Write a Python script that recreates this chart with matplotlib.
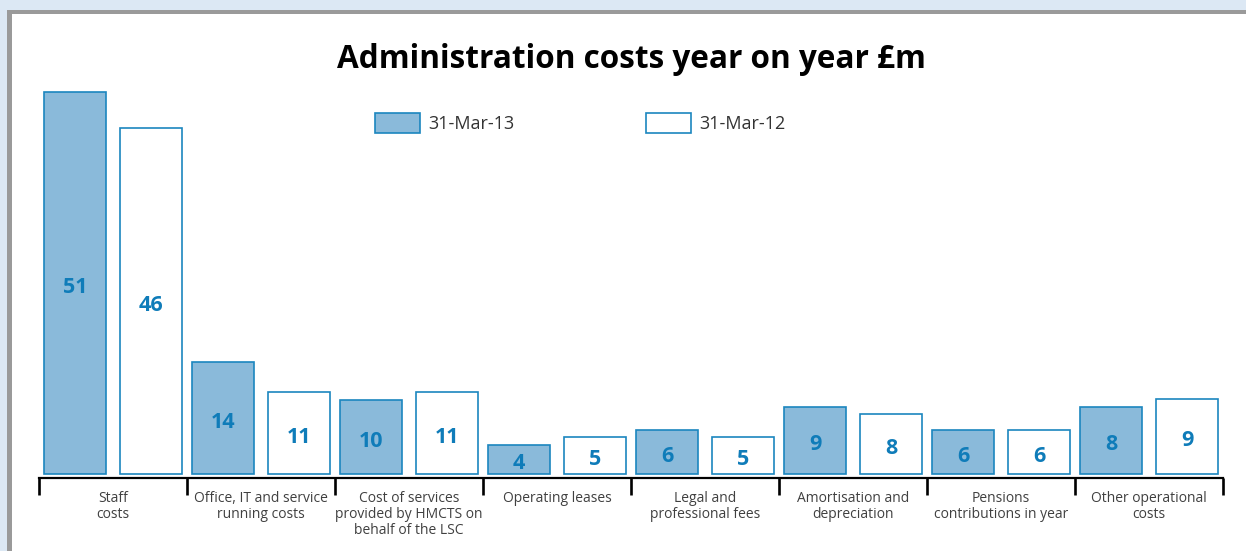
import matplotlib
matplotlib.use("Agg")
import matplotlib.pyplot as plt
import matplotlib.transforms as mtransforms
from matplotlib.patches import Rectangle, Patch
import numpy as np

plt.rcParams['font.family'] = ['Open Sans', 'DejaVu Sans']

categories = ["Staff\ncosts",
              "Office, IT and service\nrunning costs",
              "Cost of services\nprovided by HMCTS on\nbehalf of the LSC",
              "Operating leases",
              "Legal and\nprofessional fees",
              "Amortisation and\ndepreciation",
              "Pensions\ncontributions in year",
              "Other operational\ncosts"]
# bar heights as drawn (£m)
mar13 = [51.0, 14.9, 9.9, 3.9, 5.9, 8.9, 5.9, 8.9]
mar12 = [46.2, 10.9, 10.9, 4.9, 4.9, 8.0, 5.9, 10.0]
# printed labels
mar13_lbl = ["51", "14", "10", "4", "6", "9", "6", "8"]
mar12_lbl = ["46", "11", "11", "5", "5", "8", "6", "9"]
series_names = ["31-Mar-13", "31-Mar-12"]

W, H = 1246, 551
fill = "#8abada"
edge = "#1b86bf"
numcol = "#0f7cb9"
txtcol = "#404040"

fig = plt.figure(figsize=(W / 100, H / 100), dpi=100)
fig.patch.set_facecolor("#dce8f4")

# white panel with grey top/left border
fig.add_artist(Rectangle((12 / W, 0), 1, 1 - 14 / H, transform=fig.transFigure,
                         facecolor="white", edgecolor="none", zorder=0))
fig.add_artist(Rectangle((7 / W, 0), 5 / W, 1 - 10 / H, transform=fig.transFigure,
                         facecolor="#9a9a9a", edgecolor="none", zorder=0))
fig.add_artist(Rectangle((7 / W, 1 - 14 / H), 1, 4 / H, transform=fig.transFigure,
                         facecolor="#9a9a9a", edgecolor="none", zorder=0))

ax = fig.add_axes([39 / W, 73 / H, 1184 / W, 398 / H])
ax.set_facecolor("none")

x = np.arange(len(categories))
bw = 0.422
off = 0.257
b1 = ax.bar(x - off, mar13, bw, color=fill, edgecolor=edge, linewidth=1.2)
b2 = ax.bar(x + off, mar12, bw, color="white", edgecolor=edge, linewidth=1.2)

for bars, lbls in [(b1, mar13_lbl), (b2, mar12_lbl)]:
    for r, s in zip(bars, lbls):
        ax.annotate(s, (r.get_x() + r.get_width() / 2, r.get_height() / 2),
                    xytext=(0, -3), textcoords="offset points",
                    ha="center", va="center", color=numcol, fontsize=15.5,
                    fontweight="bold")

ax.set_xlim(-0.5, len(categories) - 0.5)
ax.set_ylim(-0.53, 52.6)
for s in ["top", "left", "right"]:
    ax.spines[s].set_visible(False)
ax.spines["bottom"].set_linewidth(1.6)
ax.set_yticks([])
ax.set_xticks(np.arange(len(categories) + 1) - 0.5)
ax.set_xticklabels([])
ax.tick_params(axis="x", length=12, width=1.9, direction="out", color="black")

trans = mtransforms.blended_transform_factory(ax.transData, ax.transAxes)
for xi, c in zip(x, categories):
    ax.text(xi, -13 / 398, c, transform=trans, ha="center", va="top",
            fontsize=10, color=txtcol, linespacing=1.1)

fig.text(631 / W, 1 - 60 / H, "Administration costs year on year £m",
         ha="center", va="center", fontsize=22.7, fontweight="bold", color="black")

handles = [Patch(facecolor=fill, edgecolor=edge, linewidth=1.2),
           Patch(facecolor="white", edgecolor=edge, linewidth=1.2)]
fig.legend(handles, series_names, loc="center", bbox_to_anchor=(580 / W, 1 - 123 / H),
           ncol=2, frameon=False, fontsize=13, handlelength=2.5, handleheight=1.4,
           handletextpad=0.45, columnspacing=7.3, labelcolor="#333333")

fig.savefig("out.png", dpi=100, facecolor=fig.get_facecolor())
